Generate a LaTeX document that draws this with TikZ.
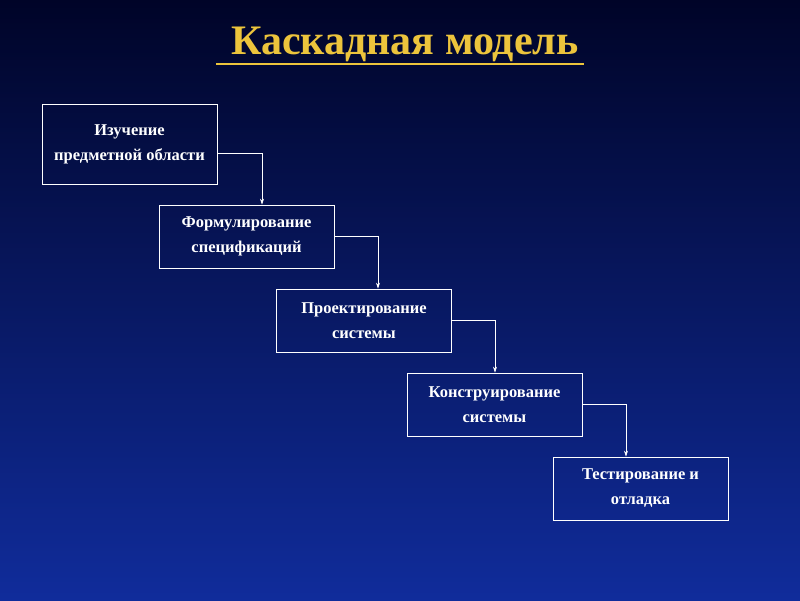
\documentclass[tikz,border=0pt]{standalone}
\usepackage{fontspec}
\setmainfont{Liberation Serif}
\usetikzlibrary{arrows.meta}
\definecolor{bgtop}{RGB}{0,4,40}
\definecolor{bgmid}{RGB}{10,36,135}
\definecolor{bgbot}{RGB}{16,44,155}
\definecolor{gold}{RGB}{236,196,60}
\begin{document}
\begin{tikzpicture}[x=1pt,y=-1pt,
  stepbox/.style={draw=white,line width=0.8pt,minimum width=175pt,minimum height=63pt,align=center,text=white,font=\fontsize{16.5}{25}\selectfont\bfseries,inner sep=2pt},
  conn/.style={draw=white,line width=0.6pt,-{Stealth[length=6pt,width=4pt]}}]
\shade[top color=bgtop,middle color=bgmid,bottom color=bgbot] (0,0) rectangle (800,600);
\useasboundingbox (0,0) rectangle (800,600);
\node (t) [text=gold,font=\fontsize{42}{46}\selectfont\bfseries,inner sep=0pt] at (405,44) {Каскадная модель};
\draw[gold,line width=1.8pt] (216,64) -- (584,64);
\node (b1) [stepbox,minimum height=80pt] at (129.5,144) {Изучение\\предметной области};
\node (b2) [stepbox] at (246.5,236.5) {Формулирование\\спецификаций};
\node (b3) [stepbox] at (364,320.5) {Проектирование\\системы};
\node (b4) [stepbox] at (494.5,404.5) {Конструирование\\системы};
\node (b5) [stepbox] at (640.5,488.5) {Тестирование и\\отладка};
\draw[conn] (b1.east) ++(0,9) -| (b2.north -| 262,0);
\draw[conn] (b2.east) -| (b3.north -| 378,0);
\draw[conn] (b3.east) -| (b4.north -| 495,0);
\draw[conn] (b4.east) -| (b5.north -| 626,0);
\end{tikzpicture}
\end{document}
